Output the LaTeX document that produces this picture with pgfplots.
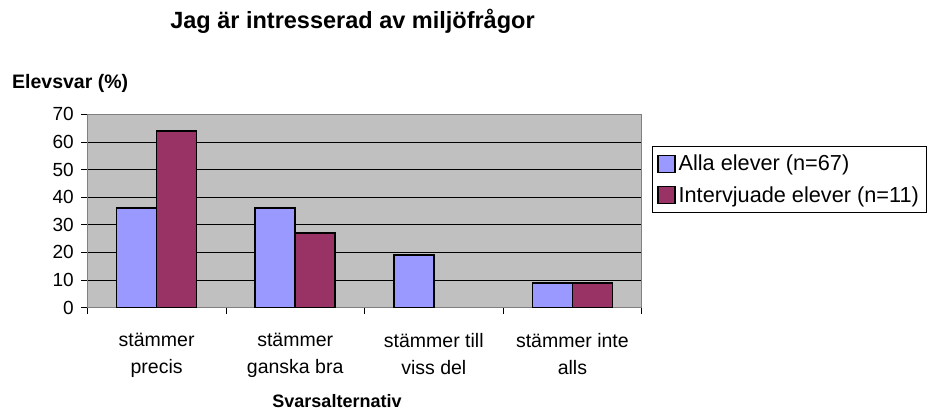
\documentclass[border=0pt]{standalone}
\usepackage{fontspec}
\setmainfont{Liberation Sans}
\usepackage{pgfplots}
\pgfplotsset{compat=1.18}
\definecolor{barblue}{HTML}{9999FF}
\definecolor{barred}{HTML}{993366}
\definecolor{plotgray}{HTML}{C0C0C0}
\definecolor{framegray}{HTML}{808080}
\begin{document}
\begin{tikzpicture}[x=1bp,y=1bp]
\path[use as bounding box] (0,0) rectangle (929,410);
\begin{axis}[
  at={(87.3bp,102.3bp)}, anchor=south west,
  scale only axis, width=554.4bp, height=193.4bp,
  ybar=0pt, bar width=40bp,
  xmin=-0.5, xmax=3.5, ymin=0, ymax=70,
  ytick={0,10,...,70},
  xtick={0,1,2,3},
  xticklabels={{stämmer\\precis},{stämmer\\ganska bra},{stämmer till\\viss del},{stämmer inte\\alls}},
  minor xtick={-0.5,0.5,1.5,2.5,3.5},
  tick align=outside,
  major tick length=6bp, minor tick length=6bp,
  major x tick style={draw=none},
  minor x tick style={draw=black, line width=0.8bp},
  major y tick style={draw=black, line width=0.8bp},
  xtick pos=bottom, ytick pos=left,
  ymajorgrids, grid style={black, line width=0.8bp},
  axis line style={framegray, line width=1.5bp},
  axis background/.style={fill=plotgray},
  /pgf/number format/assume math mode=true,
  yticklabel style={font=\fontsize{19bp}{22bp}\selectfont, xshift=-4bp},
  xticklabel style={font=\fontsize{19.5bp}{27bp}\selectfont, align=center, yshift=-16bp},
  legend style={at={(1.0186,0.8377)}, anchor=north west, draw=black, line width=0.8bp,
    fill=white, font=\fontsize{21.7bp}{26bp}\selectfont, inner xsep=5bp, inner ysep=7bp,
    row sep=10bp, legend cell align=left, nodes={inner xsep=3bp}},
  legend image code/.code={\draw[#1, line width=1.2bp] (0bp,-8.5bp) rectangle (17bp,8.5bp);},
]
\addplot[draw=black, fill=barblue, line width=1.5bp] coordinates {(0,36) (1,36) (2,19) (3,9)};
\addplot[draw=black, fill=barred, line width=1.5bp] coordinates {(0,64) (1,27) (3,9)};
\legend{Alla elever (n=67), Intervjuade elever (n=11)}
\end{axis}
\node[anchor=base] at (352.5,381.7) {\fontsize{23.5bp}{28bp}\selectfont\bfseries Jag är intresserad av miljöfrågor};
\node[anchor=base west, inner sep=0pt] at (12,321.7) {\fontsize{19.5bp}{24bp}\selectfont\bfseries Elevsvar (\%)};
\node[anchor=base, inner sep=0pt] at (337,3) {\fontsize{18bp}{22bp}\selectfont\bfseries Svarsalternativ};
\end{tikzpicture}
\end{document}
